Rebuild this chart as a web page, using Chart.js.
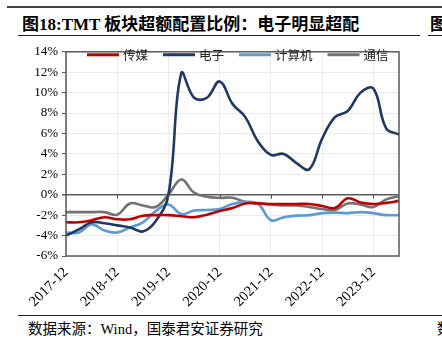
<!DOCTYPE html>
<html>
<head>
<meta charset="utf-8">
<script src="https://cdn.jsdelivr.net/npm/chart.js@4.4.0/dist/chart.umd.min.js"></script>
<style>
  body { margin: 0; width: 442px; height: 347px; overflow: hidden; background: #fff; position: relative;
         font-family: "Liberation Serif", "Noto Sans CJK SC", serif; color: #000; }
  .rule { position: absolute; height: 0; }
  .title { position: absolute; left: 22px; top: 16px; font-size: 17px; line-height: 18px; font-weight: bold; white-space: nowrap; }
  .title2 { position: absolute; left: 430px; top: 16px; font-size: 17px; line-height: 18px; font-weight: bold; white-space: nowrap; }
  .source { position: absolute; left: 28px; top: 321px; font-size: 14.5px; line-height: 16px; white-space: nowrap; }
  .source2 { position: absolute; left: 437px; top: 321px; font-size: 14.5px; line-height: 16px; white-space: nowrap; }
  #wrap { position: absolute; left: 0; top: 40px; width: 442px; height: 275px; }
</style>
</head>
<body>
<div class="rule" style="left:7px;right:0;top:6px;border-top:2px solid #444;"></div>
<div class="title">图18:TMT 板块超额配置比例：电子明显超配</div>
<div class="title2">图</div>
<div class="rule" style="left:18px;width:402px;top:35px;border-top:1.5px solid #222;"></div>
<div class="rule" style="left:428px;right:0;top:35px;border-top:1.5px solid #222;"></div>
<div id="wrap"><canvas id="grafico"></canvas></div>
<div class="rule" style="left:18px;right:0;top:315px;border-top:1.5px solid #222;"></div>
<div class="source">数据来源：Wind，国泰君安证券研究</div>
<div class="source2">数</div>

<script>
// Trimestres
const trimestres = [
  "2017-12", "2018-03", "2018-06", "2018-09", "2018-12", "2019-03", "2019-06", "2019-09",
  "2019-12", "2020-03", "2020-06", "2020-09", "2020-12", "2021-03", "2021-06", "2021-09",
  "2021-12", "2022-03", "2022-06", "2022-09", "2022-12", "2023-03", "2023-06", "2023-09",
  "2023-12", "2024-03", "2024-06"
];

// Porcentaje de sobreasignación por sector
const chuanmei = [-2.7, -2.7, -2.5, -2.2, -2.4, -2.4, -2.05, -2.0, -2.0, -2.1, -2.2, -1.95, -1.6, -1.3, -0.85, -0.85,
  -0.9, -0.9, -0.9, -0.9, -1.1, -1.3, -0.35, -0.75, -0.9, -0.8, -0.6];
const dianzi = [-4.0, -3.4, -2.7, -2.8, -3.0, -3.2, -3.6, -2.6, 0.0, 11.9, 9.5, 9.5, 11.1, 8.9, 7.6, 5.2,
  3.9, 4.0, 3.1, 2.5, 5.5, 7.6, 8.2, 10.0, 10.4, 6.5, 5.9];
const jisuanji = [-3.7, -3.7, -2.9, -3.5, -3.7, -3.2, -2.7, -1.6, -0.95, -1.9, -1.55, -1.5, -1.4, -0.9, -0.7, -0.9,
  -2.5, -2.2, -2.05, -2.0, -1.8, -1.75, -1.8, -1.7, -1.8, -2.0, -2.0];
const tongxin = [-1.7, -1.7, -1.7, -1.7, -1.95, -0.85, -1.05, -1.2, 0.0, 1.5, 0.2, -0.2, -0.3, -0.3, -0.7, -0.85,
  -0.95, -1.05, -1.05, -1.2, -1.4, -1.5, -0.85, -0.95, -1.2, -0.45, -0.15];

const nombres = ["传媒", "电子", "计算机", "通信"];
const colores = ["#c00000", "#1f3864", "#5b9bd5", "#767171"];

const ejeColor = "#595959";
const fuenteNum = "'Liberation Serif', 'Times New Roman', serif";

// Marco, marcas sobre la línea de cero y leyenda dentro del área
const decoracion = {
  id: "decoracion",
  afterDatasetsDraw(chart) {
    const { ctx, chartArea: a, scales } = chart;
    ctx.save();
    ctx.strokeStyle = ejeColor;
    ctx.lineWidth = 1.5;
    ctx.strokeRect(a.left, a.top, a.right - a.left, a.bottom - a.top);

    const y0 = scales.y.getPixelForValue(0);
    ctx.lineWidth = 1;
    trimestres.forEach((t, i) => {
      if (i % 4 !== 0 || i === 0) return;
      const x = Math.round(scales.x.getPixelForValue(i)) + 0.5;
      ctx.beginPath();
      ctx.moveTo(x, y0);
      ctx.lineTo(x, y0 + 4);
      ctx.stroke();
    });

    // leyenda
    ctx.font = "12.5px 'Noto Sans CJK SC', sans-serif";
    ctx.textBaseline = "middle";
    let x = a.left + 21;
    const y = a.top + 3;
    chart.data.datasets.forEach(ds => {
      ctx.strokeStyle = ds.borderColor;
      ctx.lineWidth = 3;
      ctx.beginPath();
      ctx.moveTo(x, y);
      ctx.lineTo(x + 32, y);
      ctx.stroke();
      x += 36;
      ctx.fillStyle = "#222";
      ctx.fillText(ds.label, x, y);
      x += ctx.measureText(ds.label).width + 15;
    });
    ctx.restore();
  }
};

const ctx = document.getElementById("grafico").getContext("2d");
new Chart(ctx, {
  type: "line",
  data: {
    labels: trimestres,
    datasets: [chuanmei, dianzi, jisuanji, tongxin].map((serie, i) => ({
      label: nombres[i],
      data: serie,
      borderColor: colores[i],
      backgroundColor: colores[i],
      borderWidth: 2.6,
      pointRadius: 0,
      tension: 0.4,
      fill: false
    }))
  },
  options: {
    responsive: true,
    maintainAspectRatio: false,
    animation: false,
    layout: { padding: { left: 0, right: 43, top: 8, bottom: 0 } },
    plugins: {
      legend: { display: false },
      tooltip: { enabled: false }
    },
    scales: {
      x: {
        offset: false,
        afterFit(scale) { scale.height = 59; },
        grid: {
          color: "#ececec",
          drawTicks: false
        },
        border: { display: false },
        ticks: {
          autoSkip: false,
          minRotation: 45,
          maxRotation: 45,
          padding: 8,
          color: "#000",
          font: { family: fuenteNum, size: 14.5 },
          callback: function(value, index) {
            return index % 4 === 0 ? trimestres[index] : null;
          }
        }
      },
      y: {
        min: -6,
        max: 14,
        afterFit(scale) { scale.width = 66; },
        grid: {
          color: c => c.tick && c.tick.value === 0 ? ejeColor : "#ebebeb",
          lineWidth: c => c.tick && c.tick.value === 0 ? 1.5 : 1,
          tickColor: ejeColor,
          tickLength: 4
        },
        border: { display: false },
        ticks: {
          stepSize: 2,
          padding: 4,
          color: "#000",
          font: { family: fuenteNum, size: 13 },
          callback: v => v + "%"
        }
      }
    }
  },
  plugins: [decoracion]
});
</script>
</body>
</html>
